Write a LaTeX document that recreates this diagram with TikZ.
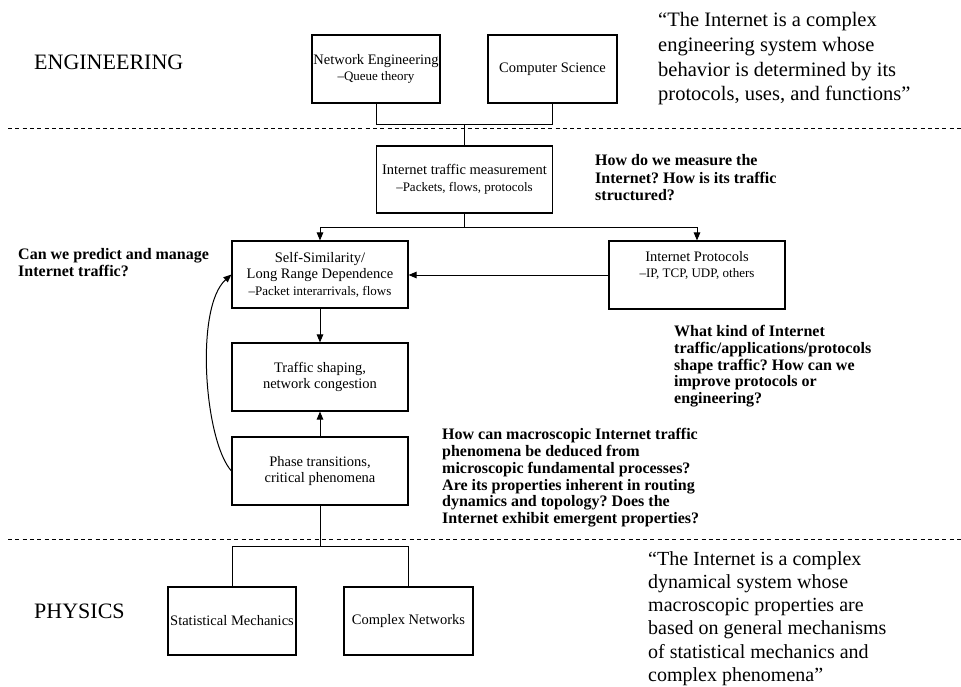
\documentclass[tikz,border=0pt]{standalone}
\usepackage{fontspec}
\setmainfont{Liberation Serif}
\usetikzlibrary{arrows.meta}
\newcommand\subl{\fontsize{13}{16.5}\selectfont}
\frenchspacing
\begin{document}
\frenchspacing
\begin{tikzpicture}[x=1pt,y=-1pt,
  box/.style={draw, line width=1.1pt, inner sep=0pt, align=center,
    font=\fontsize{14.5}{16.5}\selectfont, minimum height=68pt},
  conn/.style={line width=1pt},
  arr/.style={conn, -{Triangle[length=8pt,width=6.5pt]}},
  ques/.style={anchor=base west, align=left, inner sep=0pt},
  qfont/.style={font=\bfseries\fontsize{16}{#1}\selectfont},
  quotefont/.style={font=\fontsize{20.5}{#1}\selectfont},
  sect/.style={anchor=base west, inner sep=0pt, font=\fontsize{22}{24}\selectfont},
  sep/.style={dash pattern=on 4pt off 3.3pt, line width=0.8pt}
]
\useasboundingbox (0,0) rectangle (961,687);
\fill[white] (0,0) rectangle (961,687);

% separators
\draw[sep] (8,128) -- (961,128);
\draw[sep] (8,539) -- (961,539);

% section labels
\node[sect] (eng) at (34,70) {ENGINEERING};
\node[sect] (phys) at (34,618) {PHYSICS};

% quotes (anchored at the baseline of their last line)
\node[ques, quotefont=24.6] (qtop) at (658,100.8) {“The Internet is a complex\\engineering system whose\\behavior is determined by its\\protocols, uses, and functions”};
\node[ques, font=\fontsize{20}{23.3}\selectfont] (qbot) at (648,681.5) {“The Internet is a complex\\dynamical system whose\\macroscopic properties are\\based on general mechanisms\\of statistical mechanics and\\complex phenomena”};

% questions
\node[ques, qfont=17.5] (q1) at (595,200.7) {How do we measure the\\Internet? How is its traffic\\structured?};
\node[ques, qfont=16.7] (q2) at (18,276) {Can we predict and manage\\Internet traffic?};
\node[ques, qfont=16.65] (q3) at (674,403.3) {What kind of Internet\\traffic/applications/protocols\\shape traffic? How can we\\improve protocols or\\engineering?};
\node[ques, qfont=16.9] (q4) at (442,523.8) {How can macroscopic Internet traffic\\phenomena be deduced from\\microscopic fundamental processes?\\Are its properties inherent in routing\\dynamics and topology? Does the\\Internet exhibit emergent properties?};

% boxes
\node[box, minimum width=128pt] (NE) at (376,69) {Network Engineering\\{\subl –Queue theory}};
\node[box, minimum width=129pt] (CS) at (552.5,69) {Computer Science};
\node[box, minimum width=176pt, minimum height=67pt] (ITM) at (464.5,179.5) {Internet traffic measurement\\{\subl –Packets, flows, protocols}};
\node[box, minimum width=176pt, minimum height=67pt] (SS) at (320,274.5) {Self-Similarity/\\Long Range Dependence\\{\subl –Packet interarrivals, flows}};
\node[box, minimum width=176pt] (IP) at (697,275) {Internet Protocols\\{\subl –IP, TCP, UDP, others}\\\strut};
\node[box, minimum width=176pt] (TS) at (320,377) {Traffic shaping,\\network congestion};
\node[box, minimum width=176pt] (PT) at (320,471) {Phase transitions,\\critical phenomena};
\node[box, minimum width=128pt] (SM) at (232,621) {Statistical Mechanics};
\node[box, minimum width=129pt] (CN) at (408.5,621) {Complex Networks};

% connectors
\coordinate (jtop) at (464.5,125);
\draw[conn] (NE.south) -- (NE.south |- jtop) -| (CS.south);
\draw[conn] (jtop) -- (ITM.north);
\draw[arr] (ITM.south) -- ++(0,14) -| (SS.north);
\draw[arr] (ITM.south) -- ++(0,14) -| (IP.north);
\draw[arr] (IP.west) -- (IP.west -| SS.east);
\draw[arr] (SS.south) -- (TS.north);
\draw[arr] (PT.north) -- (TS.south);
\draw[arr] (PT.west) .. controls +(-27,-30) and +(-37,33) .. (SS.west);
\draw[conn] (PT.south) -- ++(0,41) -| (SM.north);
\draw[conn] (PT.south) -- ++(0,41) -| (CN.north);
\end{tikzpicture}
\end{document}
